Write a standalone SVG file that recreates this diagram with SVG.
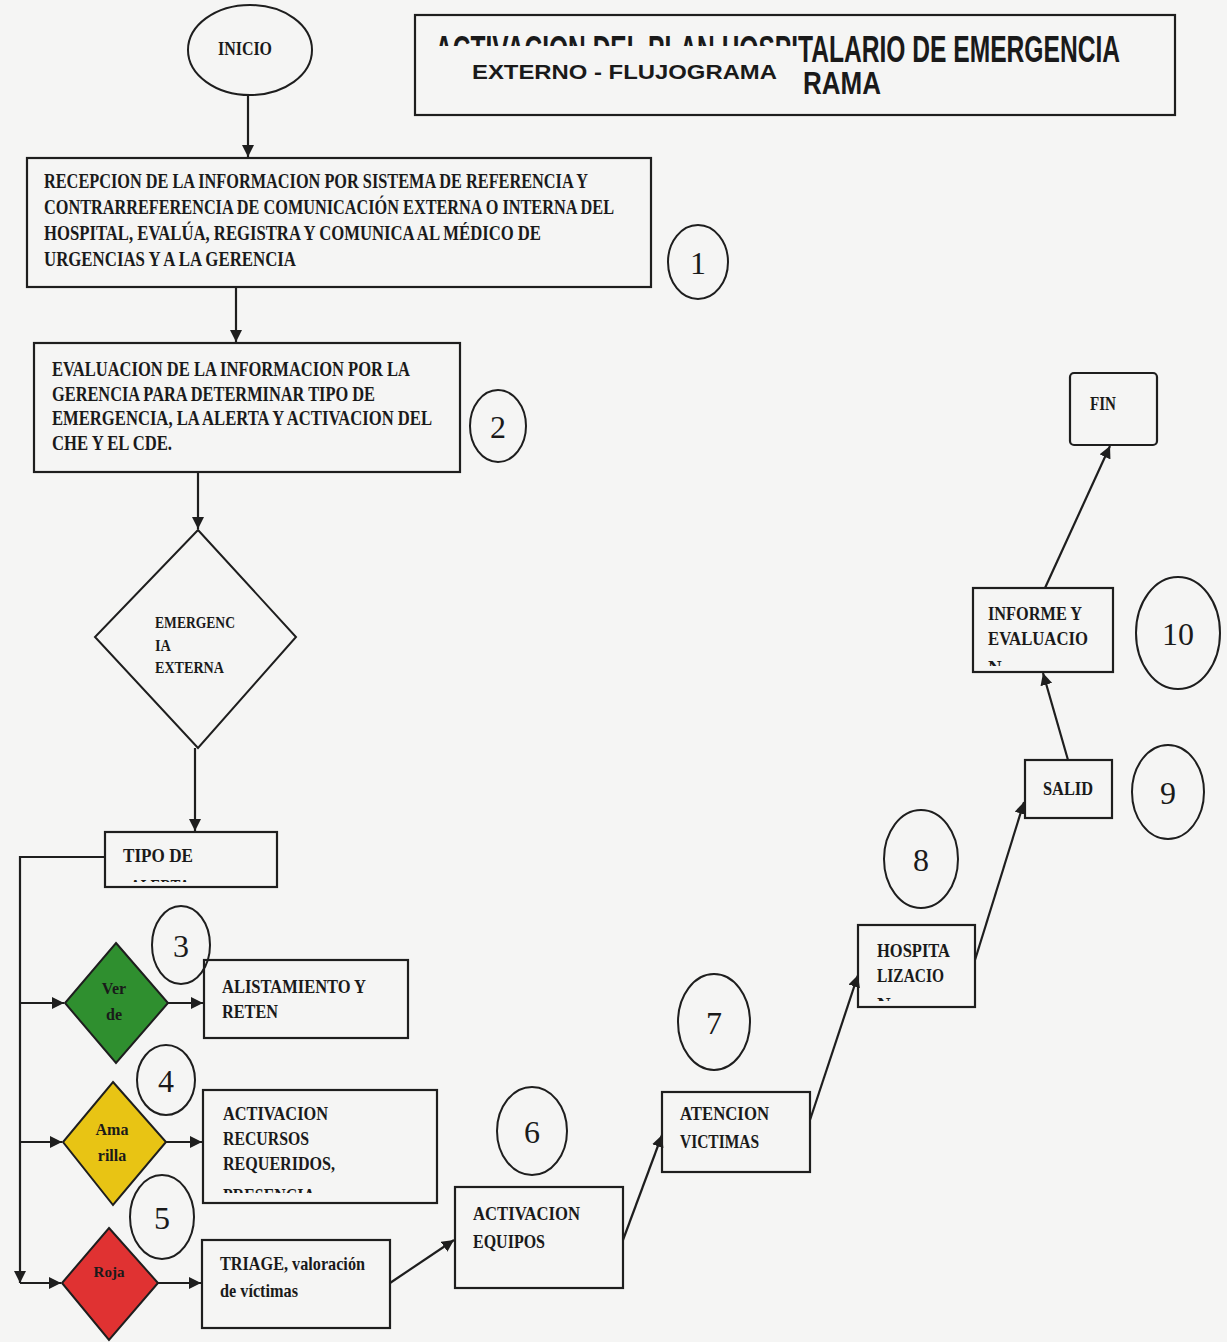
<svg xmlns="http://www.w3.org/2000/svg" width="1227" height="1342" viewBox="0 0 1227 1342">
<style>
.bg{fill:#f5f5f4}
.box{fill:none;stroke:#1e1e1e;stroke-width:2.2}
.shape{stroke:#1e1e1e;stroke-width:2}
.t{font-family:"Liberation Serif","DejaVu Serif",serif;font-weight:bold;fill:#1a1a1a}
.n{font-family:"Liberation Serif","DejaVu Serif",serif;fill:#1a1a1a;font-size:32px;text-anchor:middle}
.c{fill:none;stroke:#1e1e1e;stroke-width:2}
.conn{fill:none;stroke:#1e1e1e;stroke-width:2.2}
.ti{font-family:"Liberation Sans Narrow","Liberation Sans",Arial,sans-serif;font-weight:bold;fill:#1a1a1a}
</style>
<defs>
<marker id="ah" viewBox="0 0 10 10" refX="10" refY="5" markerWidth="12" markerHeight="12" markerUnits="userSpaceOnUse" orient="auto">
<path d="M0,0 L10,5 L0,10 z" fill="#1e1e1e"/>
</marker>
<clipPath id="clipTipo"><rect x="105" y="832" width="172" height="50"/></clipPath>
<clipPath id="clipAct"><rect x="203" y="1090" width="234" height="103"/></clipPath>
<clipPath id="clipHosp"><rect x="858" y="925" width="117" height="76"/></clipPath>
<clipPath id="clipInf"><rect x="973" y="588" width="140" height="78"/></clipPath>
<clipPath id="clipTitleTop"><rect x="432" y="20" width="366" height="26"/></clipPath>
</defs>
<rect class="bg" x="0" y="0" width="1227" height="1342"/>

<g id="title">
<rect class="box" x="415" y="15" width="760" height="100"/>
<text class="ti" clip-path="url(#clipTitleTop)" x="435" y="62" font-size="36" textLength="363" lengthAdjust="spacingAndGlyphs">ACTIVACION DEL PLAN HOSPI</text>
<text class="ti" x="798" y="62" font-size="36" textLength="322" lengthAdjust="spacingAndGlyphs">TALARIO DE EMERGENCIA</text>
<text class="ti" x="803" y="94" font-size="32" textLength="78" lengthAdjust="spacingAndGlyphs">RAMA</text>
<text x="472" y="79" font-family="'Liberation Sans',Arial,sans-serif" font-weight="bold" font-size="21" fill="#1a1a1a" textLength="305" lengthAdjust="spacingAndGlyphs">EXTERNO - FLUJOGRAMA</text>
</g>

<g id="inicio">
<ellipse class="c" cx="250" cy="50" rx="62" ry="45"/>
<text class="t" x="218" y="55" font-size="18" textLength="54" lengthAdjust="spacingAndGlyphs">INICIO</text>
</g>

<g id="recepcion">
<rect class="box" x="27" y="158" width="624" height="129"/>
<text class="t" font-size="20" x="44" y="188" textLength="544" lengthAdjust="spacingAndGlyphs">RECEPCION DE LA INFORMACION POR SISTEMA DE REFERENCIA Y</text>
<text class="t" font-size="20" x="44" y="214" textLength="570" lengthAdjust="spacingAndGlyphs">CONTRARREFERENCIA DE COMUNICACIÓN EXTERNA O INTERNA DEL</text>
<text class="t" font-size="20" x="44" y="240" textLength="497" lengthAdjust="spacingAndGlyphs">HOSPITAL, EVALÚA,  REGISTRA Y COMUNICA AL MÉDICO DE</text>
<text class="t" font-size="20" x="44" y="266" textLength="252" lengthAdjust="spacingAndGlyphs">URGENCIAS Y A LA GERENCIA</text>
</g>
<g id="num1"><ellipse class="c" cx="698" cy="262" rx="30" ry="37"/><text class="n" x="698" y="274">1</text></g>

<g id="evaluacion">
<rect class="box" x="34" y="343" width="426" height="129"/>
<text class="t" font-size="20" x="52" y="376" textLength="358" lengthAdjust="spacingAndGlyphs">EVALUACION DE LA INFORMACION POR LA</text>
<text class="t" font-size="20" x="52" y="401" textLength="323" lengthAdjust="spacingAndGlyphs">GERENCIA PARA DETERMINAR TIPO DE</text>
<text class="t" font-size="20" x="52" y="425" textLength="380" lengthAdjust="spacingAndGlyphs">EMERGENCIA, LA ALERTA Y ACTIVACION DEL</text>
<text class="t" font-size="20" x="52" y="450" textLength="120" lengthAdjust="spacingAndGlyphs">CHE Y EL CDE.</text>
</g>
<g id="num2"><ellipse class="c" cx="498" cy="426" rx="28" ry="36"/><text class="n" x="498" y="438">2</text></g>

<g id="emergencia">
<polygon class="shape" fill="none" points="198,530 296,637 198,748 95,637"/>
<text class="t" font-size="16" x="155" y="628" textLength="80" lengthAdjust="spacingAndGlyphs">EMERGENC</text>
<text class="t" font-size="16" x="155" y="651" textLength="16" lengthAdjust="spacingAndGlyphs">IA</text>
<text class="t" font-size="16" x="155" y="673" textLength="69" lengthAdjust="spacingAndGlyphs">EXTERNA</text>
</g>

<g id="tipo">
<rect class="box" x="105" y="832" width="172" height="55"/>
<g clip-path="url(#clipTipo)">
<text class="t" font-size="19" x="123" y="862" textLength="70" lengthAdjust="spacingAndGlyphs">TIPO DE</text>
<text class="t" font-size="19" x="130" y="893" textLength="60" lengthAdjust="spacingAndGlyphs">ALERTA</text>
</g>
</g>

<g id="verde">
<polygon class="shape" fill="#2f8f2f" points="116,943 168,1003 116,1063 65,1003"/>
<text class="t" font-size="16" x="114" y="994" text-anchor="middle">Ver</text>
<text class="t" font-size="16" x="114" y="1020" text-anchor="middle">de</text>
</g>
<g id="num3"><ellipse class="c" cx="181" cy="945" rx="29" ry="39"/><text class="n" x="181" y="957">3</text></g>
<g id="alistamiento">
<rect class="box" x="204" y="960" width="204" height="78"/>
<text class="t" font-size="19" x="222" y="993" textLength="144" lengthAdjust="spacingAndGlyphs">ALISTAMIENTO Y</text>
<text class="t" font-size="19" x="222" y="1018" textLength="56" lengthAdjust="spacingAndGlyphs">RETEN</text>
</g>

<g id="amarilla">
<polygon class="shape" fill="#e8c414" points="113,1082 166,1142 113,1205 63,1142"/>
<text class="t" font-size="16" x="112" y="1135" text-anchor="middle">Ama</text>
<text class="t" font-size="16" x="112" y="1161" text-anchor="middle">rilla</text>
</g>
<g id="num4"><ellipse class="c" cx="166" cy="1080" rx="29" ry="35"/><text class="n" x="166" y="1092">4</text></g>
<g id="activacionRecursos">
<rect class="box" x="203" y="1090" width="234" height="113"/>
<g clip-path="url(#clipAct)">
<text class="t" font-size="19" x="223" y="1120" textLength="105" lengthAdjust="spacingAndGlyphs">ACTIVACION</text>
<text class="t" font-size="19" x="223" y="1145" textLength="86" lengthAdjust="spacingAndGlyphs">RECURSOS</text>
<text class="t" font-size="19" x="223" y="1170" textLength="112" lengthAdjust="spacingAndGlyphs">REQUERIDOS,</text>
<text class="t" font-size="19" x="223" y="1202" textLength="92" lengthAdjust="spacingAndGlyphs">PRESENCIA</text>
</g>
</g>

<g id="roja">
<polygon class="shape" fill="#e03232" points="109,1228 158,1283 109,1340 62,1283"/>
<text class="t" font-size="15" x="109" y="1277" text-anchor="middle" fill="#3a1010">Roja</text>
</g>
<g id="num5"><ellipse class="c" cx="162" cy="1217" rx="32" ry="42"/><text class="n" x="162" y="1229">5</text></g>
<g id="triage">
<rect class="box" x="202" y="1240" width="188" height="88"/>
<text class="t" font-size="19" x="220" y="1270" textLength="145" lengthAdjust="spacingAndGlyphs">TRIAGE, valoración</text>
<text class="t" font-size="19" x="220" y="1297" textLength="78" lengthAdjust="spacingAndGlyphs">de víctimas</text>
</g>

<g id="activacionEquipos">
<rect class="box" x="455" y="1187" width="168" height="101"/>
<text class="t" font-size="19" x="473" y="1220" textLength="107" lengthAdjust="spacingAndGlyphs">ACTIVACION</text>
<text class="t" font-size="19" x="473" y="1248" textLength="72" lengthAdjust="spacingAndGlyphs">EQUIPOS</text>
</g>
<g id="num6"><ellipse class="c" cx="532" cy="1131" rx="35" ry="44"/><text class="n" x="532" y="1143">6</text></g>

<g id="atencion">
<rect class="box" x="662" y="1092" width="148" height="80"/>
<text class="t" font-size="19" x="680" y="1120" textLength="89" lengthAdjust="spacingAndGlyphs">ATENCION</text>
<text class="t" font-size="19" x="680" y="1148" textLength="79" lengthAdjust="spacingAndGlyphs">VICTIMAS</text>
</g>
<g id="num7"><ellipse class="c" cx="714" cy="1022" rx="36" ry="48"/><text class="n" x="714" y="1034">7</text></g>

<g id="hospitalizacion">
<rect class="box" x="858" y="925" width="117" height="82"/>
<g clip-path="url(#clipHosp)">
<text class="t" font-size="19" x="877" y="957" textLength="73" lengthAdjust="spacingAndGlyphs">HOSPITA</text>
<text class="t" font-size="19" x="877" y="982" textLength="67" lengthAdjust="spacingAndGlyphs">LIZACIO</text>
<text class="t" font-size="19" x="877" y="1011">N</text>
</g>
</g>
<g id="num8"><ellipse class="c" cx="921" cy="859" rx="37" ry="49"/><text class="n" x="921" y="871">8</text></g>

<g id="salida">
<rect class="box" x="1025" y="760" width="87" height="58"/>
<text class="t" font-size="19" x="1043" y="795" textLength="50" lengthAdjust="spacingAndGlyphs">SALID</text>
</g>
<g id="num9"><ellipse class="c" cx="1168" cy="792" rx="36" ry="47"/><text class="n" x="1168" y="804">9</text></g>

<g id="informe">
<rect class="box" x="973" y="588" width="140" height="84"/>
<g clip-path="url(#clipInf)">
<text class="t" font-size="19" x="988" y="620" textLength="94" lengthAdjust="spacingAndGlyphs">INFORME Y</text>
<text class="t" font-size="19" x="988" y="645" textLength="100" lengthAdjust="spacingAndGlyphs">EVALUACIO</text>
<text class="t" font-size="19" x="988" y="674">N</text>
</g>
</g>
<g id="num10"><ellipse class="c" cx="1178" cy="633" rx="42" ry="56"/><text class="n" x="1178" y="645">10</text></g>

<g id="fin">
<rect class="box" x="1070" y="373" width="87" height="72" rx="4"/>
<text class="t" font-size="19" x="1090" y="410" textLength="26" lengthAdjust="spacingAndGlyphs">FIN</text>
</g>

<g id="connectors">
<path class="conn" marker-end="url(#ah)" d="M248,95 L248,157"/>
<path class="conn" marker-end="url(#ah)" d="M236,287 L236,342"/>
<path class="conn" marker-end="url(#ah)" d="M198,472 L198,529"/>
<path class="conn" marker-end="url(#ah)" d="M195,748 L195,831"/>
<path class="conn" marker-end="url(#ah)" d="M105,857 L20,857 L20,1283"/>
<path class="conn" marker-end="url(#ah)" d="M20,1003 L64,1003"/>
<path class="conn" marker-end="url(#ah)" d="M20,1142 L62,1142"/>
<path class="conn" marker-end="url(#ah)" d="M20,1283 L61,1283"/>
<path class="conn" marker-end="url(#ah)" d="M168,1003 L203,1003"/>
<path class="conn" marker-end="url(#ah)" d="M166,1142 L202,1142"/>
<path class="conn" marker-end="url(#ah)" d="M158,1283 L201,1283"/>
<path class="conn" marker-end="url(#ah)" d="M390,1283 L454,1240"/>
<path class="conn" marker-end="url(#ah)" d="M623,1240 L662,1135"/>
<path class="conn" marker-end="url(#ah)" d="M810,1120 L858,975"/>
<path class="conn" marker-end="url(#ah)" d="M975,960 L1024,802"/>
<path class="conn" marker-end="url(#ah)" d="M1068,760 L1043,673"/>
<path class="conn" marker-end="url(#ah)" d="M1045,588 L1110,446"/>
</g>
</svg>
